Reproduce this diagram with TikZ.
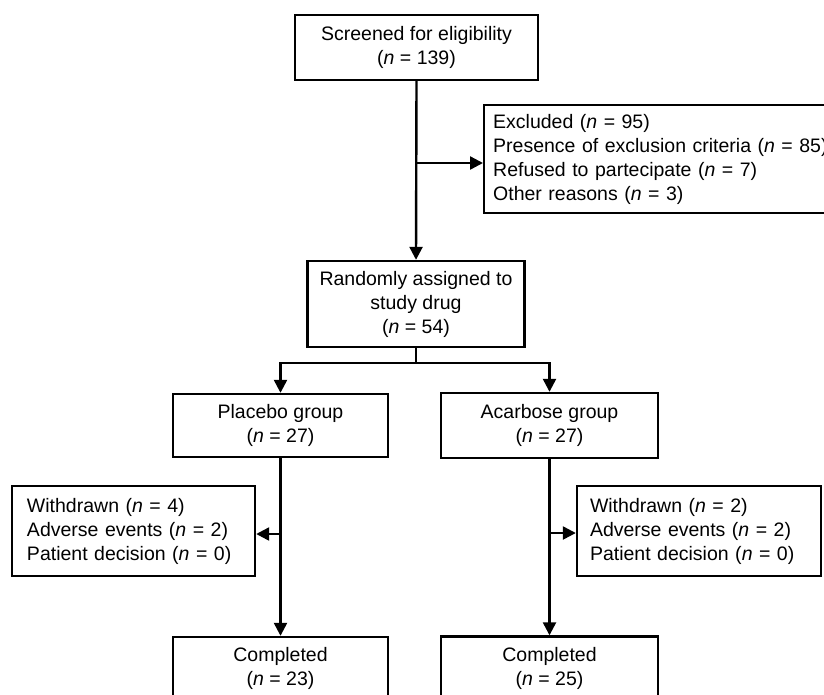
\documentclass[tikz,border=0pt]{standalone}
\usepackage{fontspec}
\setmainfont{Liberation Sans}
\usetikzlibrary{arrows.meta}
\newcommand{\nn}{\textit{n}}
\newcommand{\fsz}{\fontsize{19.5}{24}\selectfont}
\begin{document}
\begin{tikzpicture}[x=1pt,y=-1pt,
  box/.style={draw, line width=2.4pt, inner sep=0pt, align=center, font=\fsz},
  lbox/.style={draw, line width=2.4pt, inner ysep=0pt, align=left, font=\fsz},
  arr/.style={line width=2.4pt, -{Triangle[length=13pt,width=13pt]}},
  ln/.style={line width=2.4pt}]
\useasboundingbox (0,0) rectangle (824,694);
\clip (0,0) rectangle (824,694);
\node[box, minimum width=243pt, minimum height=65pt] (scr) at (416.5,47.5) {Screened for eligibility\\(\nn{} = 139)};
\node[lbox, anchor=west, inner xsep=9pt, text width=340pt, minimum height=108pt] (exc) at (483,159) {Excluded (\nn{} = 95)\\Presence of exclusion criteria (\nn{} = 85)\\Refused to partecipate (\nn{} = 7)\\Other reasons (\nn{} = 3)};
\node[box, minimum width=217pt, minimum height=86pt] (rnd) at (416,304) {Randomly assigned to\\study drug\\(\nn{} = 54)};
\node[box, minimum width=215pt, minimum height=63pt] (plc) at (280.5,425.5) {Placebo group\\(\nn{} = 27)};
\node[box, minimum width=217pt, minimum height=65pt] (aca) at (549.5,425.5) {Acarbose group\\(\nn{} = 27)};
\node[lbox, inner xsep=15pt, text width=213pt, minimum height=90pt] (wl) at (133.5,531) {Withdrawn (\nn{} = 4)\\Adverse events (\nn{} = 2)\\Patient decision (\nn{} = 0)};
\node[lbox, inner xsep=13pt, text width=218pt, minimum height=90pt] (wr) at (699,531) {Withdrawn (\nn{} = 2)\\Adverse events (\nn{} = 2)\\Patient decision (\nn{} = 0)};
\node[box, minimum width=215pt, minimum height=63pt] (cl) at (280.5,668.5) {Completed\\(\nn{} = 23)};
\node[box, minimum width=217pt, minimum height=63pt] (cr) at (549.5,668) {Completed\\(\nn{} = 25)};
% connectors
\draw[arr] (scr.south) -- (rnd.north);
\coordinate (e1) at (416.5,163);
\draw[arr] (e1) -- (e1 -| exc.west);
\coordinate (b1) at (416,363);
\draw[ln] (rnd.south) -- (b1);
\draw[arr] (b1) -| (plc.north);
\draw[arr] (b1) -| (aca.north);
\draw[arr] (plc.south) -- (cl.north);
\draw[arr] (aca.south) -- (cr.north);
\coordinate (wlb) at (280.5,534);
\coordinate (wrb) at (549.5,533);
\draw[arr] (wlb) -- (wlb -| wl.east);
\draw[arr] (wrb) -- (wrb -| wr.west);
\end{tikzpicture}
\end{document}
